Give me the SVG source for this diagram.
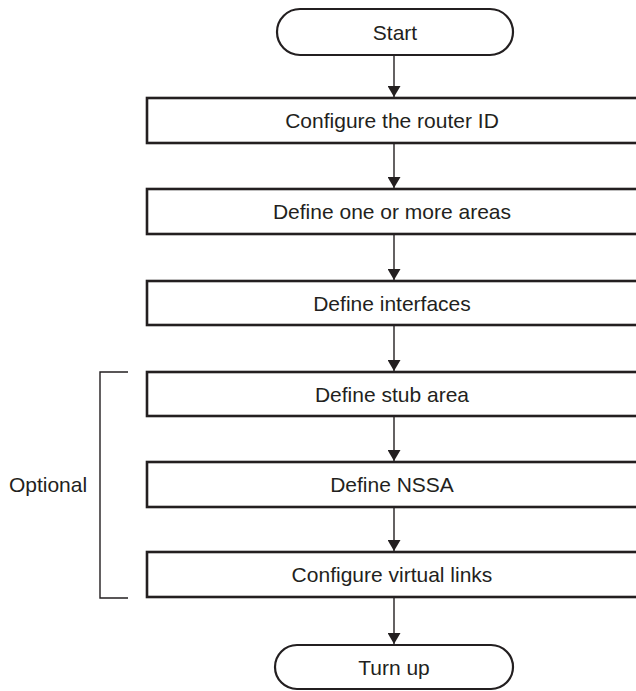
<svg xmlns="http://www.w3.org/2000/svg" width="636" height="691" viewBox="0 0 636 691">
<defs>
<style>
.box{fill:#fff;stroke:#231f20;stroke-width:2.6}
.pill{fill:#fff;stroke:#231f20;stroke-width:2.2}
.lbl{font-family:"Liberation Sans",Arial,sans-serif;font-size:21px;fill:#231f20;text-anchor:middle}
.conn{stroke:#231f20;stroke-width:1.4;fill:none}
</style>
<marker id="arr" viewBox="0 0 11 13" refX="11" refY="6.5" markerWidth="11" markerHeight="13" markerUnits="userSpaceOnUse" orient="auto">
<path d="M0,0 L11,6.5 L0,13 z" fill="#231f20"/>
</marker>
</defs>
<rect width="636" height="691" fill="#fff"/>
<g id="connectors">
<line class="conn" x1="394" y1="55" x2="394" y2="97" marker-end="url(#arr)"/>
<line class="conn" x1="394" y1="143" x2="394" y2="188" marker-end="url(#arr)"/>
<line class="conn" x1="394" y1="234" x2="394" y2="280" marker-end="url(#arr)"/>
<line class="conn" x1="394" y1="325" x2="394" y2="371" marker-end="url(#arr)"/>
<line class="conn" x1="394" y1="416" x2="394" y2="461" marker-end="url(#arr)"/>
<line class="conn" x1="394" y1="507" x2="394" y2="551" marker-end="url(#arr)"/>
<line class="conn" x1="394" y1="597" x2="394" y2="644" marker-end="url(#arr)"/>
</g>
<g id="bracket">
<path class="conn" d="M128,372 H100 V598 H128"/>
<text class="lbl" x="48" y="492">Optional</text>
</g>
<g id="start">
<rect class="pill" x="277" y="9" width="236" height="46" rx="23"/>
<text class="lbl" x="395" y="40">Start</text>
</g>
<g id="router-id">
<rect class="box" x="147" y="98" width="494" height="45"/>
<text class="lbl" x="392" y="128">Configure the router ID</text>
</g>
<g id="areas">
<rect class="box" x="147" y="189" width="494" height="45"/>
<text class="lbl" x="392" y="219">Define one or more areas</text>
</g>
<g id="interfaces">
<rect class="box" x="147" y="281" width="494" height="44"/>
<text class="lbl" x="392" y="311">Define interfaces</text>
</g>
<g id="stub">
<rect class="box" x="147" y="372" width="494" height="44"/>
<text class="lbl" x="392" y="402">Define stub area</text>
</g>
<g id="nssa">
<rect class="box" x="147" y="462" width="494" height="45"/>
<text class="lbl" x="392" y="492">Define NSSA</text>
</g>
<g id="virtual">
<rect class="box" x="147" y="552" width="494" height="45"/>
<text class="lbl" x="392" y="582">Configure virtual links</text>
</g>
<g id="turnup">
<rect class="pill" x="275" y="645" width="238" height="44" rx="22"/>
<text class="lbl" x="394" y="675">Turn up</text>
</g>
</svg>
